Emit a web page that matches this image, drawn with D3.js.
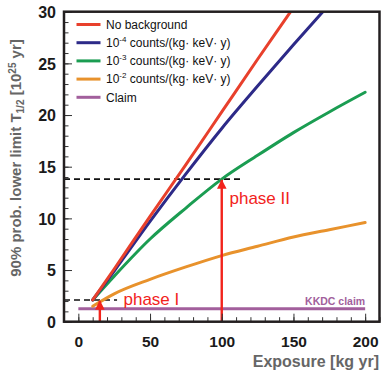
<!DOCTYPE html>
<html><head><meta charset="utf-8">
<script src="https://cdn.jsdelivr.net/npm/d3@7"></script>
<style>
body{margin:0;background:#fff;}
svg{display:block;font-family:"Liberation Sans",Arial,Helvetica,sans-serif;}
</style></head>
<body><svg id="c" width="383" height="372"></svg>
<script>
// ---- data ----
const exposure = [10, 25, 50, 75, 100, 125, 150, 175, 200];
const noBackground = [2.1, 5.1, 10.2, 15.2, 20.3, 25.4, 30.4, 35.5, 40.6];
const bkg1e4 = [2.1, 4.9, 9.7, 14.3, 18.7, 22.8, 26.8, 30.7, 34.5];
const bkg1e3 = [2.1, 4.4, 8.0, 11.0, 13.8, 16.1, 18.3, 20.3, 22.2];
const bkg1e2 = [1.5, 2.7, 4.1, 5.3, 6.4, 7.3, 8.2, 8.9, 9.6];
const claimX = [0, 200];
const claimY = [1.25, 1.25];
const xTicks = [0, 50, 100, 150, 200];
const yTicks = [0, 5, 10, 15, 20, 25, 30];
const phaseI = {x: 15, y: 2.1, dashEnd: 27, label: "phase I"};
const phaseII = {x: 100, y: 13.8, dashEnd: 114, label: "phase II"};
const seriesNames = ["No background", "counts/(kg· keV· y)", "counts/(kg· keV· y)", "counts/(kg· keV· y)", "Claim"];
const seriesExp = [null, "-4", "-3", "-2", null];
const colors = ["#e8402c", "#2d2a88", "#1b9d52", "#e8922c", "#a25f9c"];

const svg = d3.select("#c");
const x = d3.scaleLinear().domain([-10, 210]).range([64, 379.5]);
const y = d3.scaleLinear().domain([0, 30]).range([321.7, 11.7]);

svg.append("defs").append("clipPath").attr("id","clip")
  .append("rect").attr("x", x(-10)).attr("y", y(30)).attr("width", x(210)-x(-10)).attr("height", y(0)-y(30));

const plot = svg.append("g").attr("clip-path","url(#clip)");

// claim line
plot.append("path")
  .attr("d", d3.line().x(d=>x(d[0])).y(d=>y(d[1]))(claimX.map((v,i)=>[v, claimY[i]])))
  .attr("stroke", colors[4]).attr("stroke-width", 3).attr("fill","none");

// dashed lines
[phaseI, phaseII].forEach(p => {
  plot.append("line").attr("x1", x(-10)).attr("x2", x(p.dashEnd)).attr("y1", y(p.y)).attr("y2", y(p.y))
    .attr("stroke","#111").attr("stroke-width",1.6).attr("stroke-dasharray","6,4");
});

// curves
const line = d3.line().x(d=>x(d[0])).y(d=>y(d[1])).curve(d3.curveMonotoneX);
const series = [noBackground, bkg1e4, bkg1e3, bkg1e2];
[3,2,1,0].forEach(i => {
  plot.append("path").attr("d", line(exposure.map((e,j)=>[e, series[i][j]])))
    .attr("stroke", colors[i]).attr("stroke-width", 3).attr("fill","none").attr("stroke-linecap","round");
});

// arrows
const defs = svg.select("defs");
defs.append("marker").attr("id","arr").attr("viewBox","0 0 10 10").attr("refX",9).attr("refY",5)
  .attr("markerWidth",4).attr("markerHeight",4).attr("orient","auto-start-reverse").attr("markerUnits","strokeWidth")
  .append("path").attr("d","M0,0 L10,5 L0,10 z").attr("fill","#f2231c");
[phaseI, phaseII].forEach(p => {
  plot.append("line").attr("x1", x(p.x)).attr("x2", x(p.x)).attr("y1", y(0)).attr("y2", y(p.y)+1)
    .attr("stroke","#f2231c").attr("stroke-width",2.4).attr("marker-end","url(#arr)");
});

// phase labels
svg.append("text").attr("x", 123.5).attr("y", 304.5).text(phaseI.label)
  .attr("fill","#f2231c").attr("font-size", 17);
svg.append("text").attr("x", 229.5).attr("y", 203.5).text(phaseII.label)
  .attr("fill","#f2231c").attr("font-size", 17);

// KKDC claim label
svg.append("text").attr("x", x(200)).attr("y", 304.5).attr("text-anchor","end").text("KKDC claim")
  .attr("fill", colors[4]).attr("font-size", 10.5).attr("font-weight","bold");

// axes: ticks inward
const gy = svg.append("g").attr("transform", `translate(${x(-10)},0)`)
  .call(d3.axisLeft(y).tickValues(yTicks).tickSize(-8).tickPadding(8).tickFormat(d3.format("d")));
const gyMinor = svg.append("g").attr("transform", `translate(${x(-10)},0)`)
  .call(d3.axisLeft(y).tickValues(d3.range(0, 31, 1)).tickSize(-4.5).tickFormat(""));
const gx = svg.append("g").attr("transform", `translate(0,${y(0)})`)
  .call(d3.axisBottom(x).tickValues(xTicks).tickSize(-8).tickPadding(14).tickFormat(d3.format("d")));
const gxMinor = svg.append("g").attr("transform", `translate(0,${y(0)})`)
  .call(d3.axisBottom(x).tickValues(d3.range(-10, 211, 10)).tickSize(-4.5).tickFormat(""));
[gy, gyMinor, gx, gxMinor].forEach(g => {
  g.select(".domain").remove();
  g.selectAll(".tick line").attr("stroke","#333").attr("stroke-width",1);
});
gy.selectAll("text").attr("font-size",16).attr("font-weight","bold").attr("fill","#1a1a1a")
  .attr("font-family","Liberation Sans, Arial, sans-serif").attr("dy","0.36em");
gx.selectAll("text").attr("font-size",15.5).attr("font-weight","bold").attr("fill","#1a1a1a")
  .attr("font-family","Liberation Sans, Arial, sans-serif");

// frame
svg.append("rect").attr("x", x(-10)).attr("y", y(30)).attr("width", x(210)-x(-10)).attr("height", y(0)-y(30))
  .attr("fill","none").attr("stroke","#231f20").attr("stroke-width",2.5);

// legend
const leg = svg.append("g");
seriesNames.forEach((name, i) => {
  const ly = 24.5 + i*18.2;
  leg.append("line").attr("x1", 76.5).attr("x2", 100.5).attr("y1", ly).attr("y2", ly)
    .attr("stroke", colors[i]).attr("stroke-width", 3);
  const t = leg.append("text").attr("x", 106).attr("y", ly + 4.3).attr("font-size", 12).attr("fill","#111");
  if (seriesExp[i]) {
    t.append("tspan").text("10");
    t.append("tspan").attr("dy", -5).attr("font-size", 8).text(seriesExp[i]);
    t.append("tspan").attr("dy", 5).text(" " + name);
  } else {
    t.text(name);
  }
});

// axis titles
svg.append("text").attr("x", 379).attr("y", 367).attr("text-anchor","end")
  .attr("font-size", 16).attr("font-weight","bold").attr("fill","#666").text("Exposure [kg yr]");
const yl = svg.append("text").attr("transform","translate(21,158) rotate(-90)").attr("text-anchor","middle")
  .attr("font-size", 15).attr("font-weight","bold").attr("fill","#666");
yl.append("tspan").text("90% prob. lower limit T");
yl.append("tspan").attr("dy", 3).attr("font-size", 10).text("1/2");
yl.append("tspan").attr("dy", -3).text(" [10");
yl.append("tspan").attr("dy", -5).attr("font-size", 10).text("25");
yl.append("tspan").attr("dy", 5).text(" yr]");
</script>
</body></html>
